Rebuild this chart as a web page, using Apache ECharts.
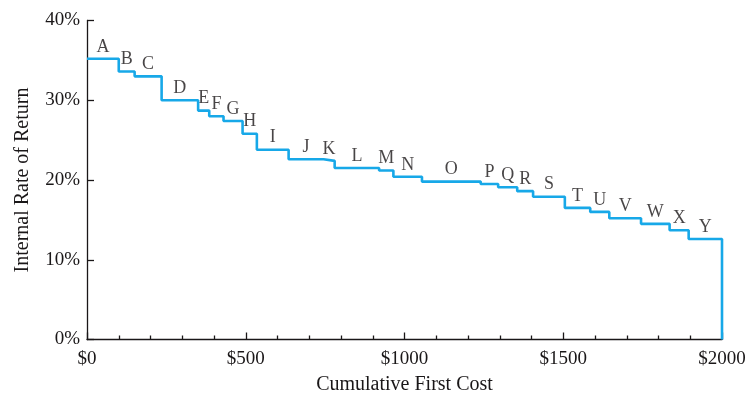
<!DOCTYPE html>
<html>
<head>
<meta charset="utf-8">
<script src="https://cdn.jsdelivr.net/npm/echarts@6/dist/echarts.min.js"></script>
<style>html,body{margin:0;padding:0;background:#fff;}#c{width:752px;height:395px;}</style>
</head>
<body>
<div id="c"></div>
<script>
var projects = ['A','B','C','D','E','F','G','H','I','J','K','L','M','N','O','P','Q','R','S','T','U','V','W','X','Y'];
var cumulativeCost = [100,150,235,350,385,430,490,535,635,745,780,920,965,1055,1240,1295,1355,1405,1505,1585,1645,1745,1835,1895,2000];
var rateOfReturn = [35.2,33.6,33.0,30.0,28.7,28.0,27.4,25.8,23.8,22.6,22.4,21.5,21.2,20.4,19.8,19.5,19.1,18.6,17.9,16.5,16.0,15.2,14.5,13.7,12.6];
var xTicks = [0,500,1000,1500,2000];
var yTicks = [0,10,20,30,40];

var stepData = [];
var labelData = [];
var prev = 0;
for (var i = 0; i < projects.length; i++) {
  stepData.push([prev, rateOfReturn[i]]);
  labelData.push({name: projects[i], value: [(prev + cumulativeCost[i]) / 2, rateOfReturn[i]]});
  prev = cumulativeCost[i];
}
stepData.push([prev, 0]);

var ink = '#1a1718';
var font = 'Liberation Serif';
var chart = echarts.init(document.getElementById('c'), null, {renderer: 'canvas'});
chart.setOption({
  animation: false,
  grid: {left: 87, right: 30, top: 20.5, bottom: 55.5, containLabel: false, outerBoundsMode: 'none'},
  xAxis: {
    type: 'value', min: 0, max: 2000, interval: 500,
    name: 'Cumulative First Cost', nameLocation: 'middle', nameGap: 35,
    nameTextStyle: {fontFamily: font, fontSize: 20, color: ink},
    axisLine: {show: true, lineStyle: {color: ink, width: 1.3}},
    axisTick: {show: true, inside: true, length: 7, lineStyle: {color: ink, width: 1.3}},
    minorTick: {show: true, splitNumber: 5, length: 4, lineStyle: {color: ink, width: 1.3}},
    axisLabel: {fontFamily: font, fontSize: 19, color: ink, margin: 10,
      formatter: function (v) { return xTicks.indexOf(v) >= 0 ? '$' + v : ''; }},
    splitLine: {show: false}
  },
  yAxis: {
    type: 'value', min: 0, max: 40, interval: 10,
    name: 'Internal Rate of Return', nameLocation: 'middle', nameGap: 54, nameRotate: 90,
    nameTextStyle: {fontFamily: font, fontSize: 20, color: ink},
    axisLine: {show: true, lineStyle: {color: ink, width: 1.3}},
    axisTick: {show: true, inside: true, length: 7, lineStyle: {color: ink, width: 1.3}},
    axisLabel: {fontFamily: font, fontSize: 19, color: ink, margin: 7,
      formatter: function (v) { return yTicks.indexOf(v) >= 0 ? v + '%' : ''; }},
    splitLine: {show: false}
  },
  series: [
    {
      type: 'line', step: 'end', data: stepData, symbol: 'none',
      lineStyle: {color: '#17a8e8', width: 2.6}, z: 3
    },
    {
      type: 'scatter', data: labelData, symbolSize: 0, silent: true,
      label: {show: true, position: 'top', distance: 3, formatter: '{b}',
        fontFamily: font, fontSize: 18, color: ink}
    }
  ]
});
</script>
</body>
</html>
